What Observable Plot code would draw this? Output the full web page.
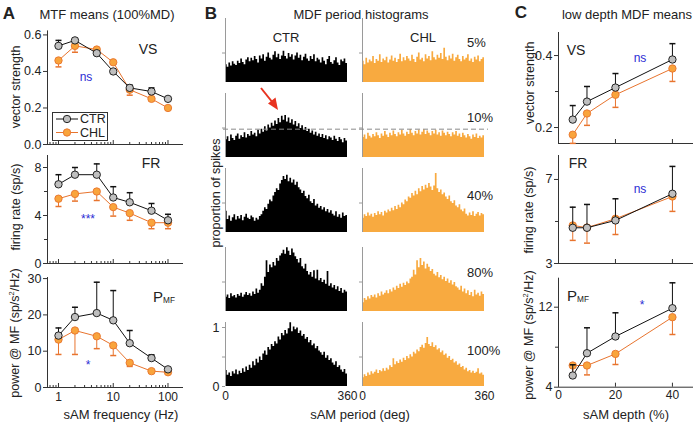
<!DOCTYPE html>
<html><head><meta charset="utf-8">
<script src="https://cdn.jsdelivr.net/npm/d3@7"></script>
<script src="https://cdn.jsdelivr.net/npm/@observablehq/plot@0.6"></script>
<style>
body{margin:0;background:#fff;}
#fig{position:relative;width:697px;height:423px;overflow:hidden;font-family:"Liberation Sans",Arial,sans-serif;color:#222;background:#fff;}
#fig svg{position:absolute;left:0;top:0;}
.t{position:absolute;white-space:nowrap;line-height:1;}
.t sub{font-size:0.55em;vertical-align:-0.15em;}
</style></head><body><div id="fig"></div>
<script>
// ---------- Panel A data: MTF means (100% MD) ----------
const freqHz = [1, 2, 5, 10, 20, 50, 100];
const vsCtr = [0.54, 0.57, 0.50, 0.40, 0.31, 0.29, 0.25];
const vsCtrSem = [0.03, 0.01, 0.01, 0.01, 0.015, 0.02, 0.01];
const vsChl = [0.46, 0.54, 0.52, 0.45, 0.30, 0.25, 0.20];
const vsChlSem = [0.035, 0.035, 0.01, 0.01, 0.03, 0.01, 0.01];
const frCtr = [6.6, 7.4, 7.4, 5.5, 5.1, 4.4, 3.6];
const frCtrSem = [0.8, 0.6, 0.9, 0.9, 0.8, 0.6, 0.5];
const frChl = [5.4, 5.8, 6.0, 4.7, 4.2, 3.4, 3.4];
const frChlSem = [0.65, 0.6, 0.75, 0.75, 0.6, 0.5, 0.5];
const pmfCtr = [14.3, 19.4, 20.5, 18.5, 12.2, 8.1, 5.0];
const pmfCtrSem = [2.1, 2.7, 8.5, 8.2, 3.5, 0.9, 0.4];
const pmfChl = [13.2, 15.7, 14.1, 11.6, 6.8, 4.5, 4.2];
const pmfChlSem = [4.1, 6.6, 3.4, 2.8, 1.0, 0.3, 0.3];

// ---------- Panel C data: low depth MDF means ----------
const depthPct = [5, 10, 20, 40];
const lowVsCtr = [0.222, 0.272, 0.311, 0.389];
const lowVsCtrSem = [0.039, 0.042, 0.039, 0.044];
const lowVsChl = [0.180, 0.239, 0.291, 0.364];
const lowVsChlSem = [0.024, 0.033, 0.035, 0.036];
const lowFrCtr = [4.70, 4.70, 5.05, 6.32];
const lowFrCtrSem = [0.98, 1.11, 1.03, 1.30];
const lowFrChl = [4.81, 4.71, 5.13, 6.19];
const lowFrChlSem = [0.71, 0.74, 0.75, 0.71];
const lowPmfCtr = [5.17, 7.4, 9.07, 11.9];
const lowPmfCtrSem = [1.07, 2.54, 2.37, 2.54];
const lowPmfChl = [6.17, 6.17, 7.33, 11.0];
const lowPmfChlSem = [0.84, 0.94, 1.06, 1.73];

// ---------- Panel B data: period histograms (72 bins of 5 deg) ----------
const depthLabels = ["5%", "10%", "40%", "80%", "100%"];
const refLevel10 = 0.48;
const histCtr5 = [0.30,0.26,0.33,0.28,0.35,0.31,0.29,0.36,0.32,0.40,0.34,0.30,0.38,0.42,0.35,0.41,0.37,0.44,0.39,0.33,0.45,0.40,0.47,0.36,0.43,0.50,0.41,0.38,0.46,0.52,0.42,0.48,0.39,0.45,0.53,0.44,0.40,0.49,0.43,0.47,0.38,0.45,0.50,0.41,0.46,0.37,0.43,0.48,0.40,0.36,0.44,0.39,0.47,0.35,0.41,0.38,0.33,0.42,0.36,0.30,0.39,0.44,0.34,0.31,0.37,0.42,0.33,0.29,0.38,0.35,0.40,0.32];
const histChl5 = [0.36,0.30,0.41,0.33,0.38,0.35,0.44,0.32,0.39,0.36,0.47,0.34,0.40,0.37,0.43,0.33,0.38,0.45,0.36,0.41,0.34,0.39,0.48,0.35,0.42,0.37,0.44,0.40,0.36,0.46,0.39,0.34,0.43,0.50,0.38,0.41,0.35,0.47,0.40,0.44,0.37,0.52,0.42,0.38,0.46,0.41,0.49,0.39,0.58,0.43,0.37,0.45,0.40,0.48,0.36,0.42,0.46,0.39,0.35,0.44,0.38,0.41,0.47,0.36,0.40,0.34,0.43,0.38,0.45,0.35,0.39,0.42];
const histCtr10 = [0.30,0.35,0.27,0.38,0.32,0.29,0.36,0.40,0.31,0.37,0.34,0.42,0.33,0.39,0.36,0.44,0.38,0.41,0.35,0.46,0.40,0.48,0.43,0.52,0.45,0.55,0.50,0.58,0.53,0.62,0.56,0.66,0.59,0.70,0.63,0.71,0.60,0.67,0.58,0.64,0.55,0.61,0.52,0.57,0.49,0.54,0.46,0.51,0.44,0.48,0.41,0.45,0.38,0.43,0.36,0.40,0.34,0.39,0.32,0.37,0.30,0.35,0.33,0.29,0.36,0.31,0.27,0.34,0.30,0.25,0.32,0.28];
const histChl10 = [0.34,0.38,0.31,0.41,0.36,0.33,0.39,0.35,0.42,0.37,0.32,0.40,0.36,0.44,0.38,0.34,0.41,0.37,0.45,0.39,0.35,0.42,0.38,0.46,0.40,0.36,0.43,0.39,0.47,0.41,0.37,0.44,0.40,0.46,0.38,0.43,0.47,0.39,0.45,0.41,0.37,0.44,0.40,0.46,0.38,0.42,0.36,0.45,0.41,0.37,0.43,0.39,0.35,0.42,0.38,0.44,0.36,0.40,0.34,0.41,0.37,0.33,0.39,0.35,0.31,0.38,0.34,0.40,0.32,0.36,0.33,0.37];
const histCtr40 = [0.36,0.22,0.28,0.19,0.25,0.30,0.21,0.27,0.23,0.29,0.20,0.26,0.31,0.24,0.22,0.28,0.25,0.19,0.24,0.21,0.27,0.30,0.36,0.42,0.39,0.48,0.55,0.52,0.62,0.68,0.74,0.71,0.82,0.88,0.95,0.90,0.97,0.86,0.92,0.84,0.89,0.80,0.85,0.76,0.72,0.66,0.70,0.61,0.57,0.63,0.52,0.49,0.56,0.45,0.48,0.41,0.44,0.38,0.42,0.35,0.39,0.33,0.37,0.31,0.28,0.35,0.26,0.30,0.24,0.33,0.27,0.29];
const histChl40 = [0.24,0.30,0.27,0.33,0.28,0.31,0.26,0.32,0.29,0.35,0.30,0.34,0.28,0.36,0.33,0.38,0.35,0.41,0.37,0.44,0.39,0.46,0.42,0.50,0.47,0.55,0.52,0.60,0.58,0.66,0.62,0.70,0.64,0.74,0.69,0.78,0.72,0.80,0.75,0.83,0.77,0.71,0.79,1.00,0.74,0.68,0.72,0.64,0.67,0.60,0.56,0.62,0.52,0.49,0.54,0.45,0.42,0.47,0.38,0.35,0.40,0.31,0.28,0.33,0.29,0.35,0.27,0.31,0.34,0.28,0.32,0.30];
const histCtr80 = [0.24,0.28,0.22,0.30,0.25,0.27,0.23,0.29,0.26,0.31,0.24,0.28,0.32,0.27,0.30,0.26,0.33,0.29,0.38,0.31,0.36,0.47,0.43,0.58,0.86,0.66,0.79,0.74,0.83,0.77,0.90,0.85,0.94,0.98,1.04,0.97,1.08,1.02,0.95,1.06,0.99,0.93,0.88,0.82,0.90,0.76,0.72,0.80,0.68,0.62,0.66,0.58,0.69,0.55,0.70,0.52,0.56,0.49,0.53,0.46,0.68,0.43,0.47,0.40,0.44,0.37,0.42,0.34,0.39,0.31,0.36,0.33];
const histChl80 = [0.15,0.22,0.19,0.25,0.21,0.27,0.24,0.28,0.23,0.30,0.26,0.33,0.28,0.31,0.35,0.30,0.37,0.33,0.40,0.36,0.43,0.39,0.46,0.41,0.48,0.44,0.50,0.47,0.55,0.58,0.70,0.62,0.86,0.74,0.90,0.78,0.84,0.72,0.80,0.75,0.68,0.71,0.63,0.60,0.66,0.57,0.61,0.54,0.58,0.51,0.55,0.48,0.52,0.45,0.49,0.42,0.40,0.36,0.43,0.33,0.38,0.30,0.35,0.27,0.32,0.25,0.36,0.28,0.31,0.26,0.33,0.29];
const histCtr100 = [0.27,0.19,0.23,0.17,0.25,0.21,0.28,0.20,0.26,0.22,0.30,0.24,0.33,0.27,0.36,0.31,0.42,0.35,0.46,0.40,0.50,0.44,0.55,0.60,0.53,0.66,0.62,0.71,0.68,0.76,0.72,0.84,0.79,0.90,0.86,0.95,0.89,0.98,1.08,0.93,1.01,0.96,0.99,0.90,0.94,0.85,0.88,0.80,0.83,0.74,0.78,0.69,0.72,0.64,0.68,0.60,0.57,0.53,0.58,0.48,0.52,0.44,0.47,0.40,0.36,0.42,0.32,0.35,0.28,0.24,0.29,0.21];
const histChl100 = [0.15,0.20,0.17,0.23,0.19,0.25,0.21,0.24,0.28,0.22,0.27,0.25,0.30,0.26,0.31,0.28,0.35,0.32,0.47,0.37,0.42,0.39,0.45,0.41,0.48,0.44,0.51,0.47,0.54,0.50,0.58,0.55,0.62,0.59,0.66,0.70,0.65,0.73,0.83,0.71,0.68,0.74,0.66,0.69,0.62,0.64,0.57,0.60,0.53,0.55,0.48,0.51,0.44,0.46,0.40,0.42,0.36,0.38,0.32,0.34,0.28,0.31,0.25,0.27,0.23,0.26,0.22,0.24,0.30,0.21,0.23,0.19];

// ---------- layout & styling ----------
const W = 697, H = 423;
const fig = document.getElementById("fig");
const AX = "#333", BLK = "#111", GRY = "#bfbfbf", ORL = "#e8742e", ORF = "#f9a43c", HORF = "#f8aa40", BLUE = "#2b2bd4";
const FONT = "'Liberation Sans', Arial, sans-serif";
const svgStyle = `background:none;overflow:visible;font-family:${FONT};font-size:12.5px;color:#222;max-width:none;`;
const capSymbol = {draw(ctx, size) { const r = Math.sqrt(size / Math.PI); ctx.moveTo(-r, 0); ctx.lineTo(r, 0); }};

function frame(x0, x1, y0, y1) {
  return {width: W, height: H, marginLeft: x0, marginRight: W - x1, marginTop: y0, marginBottom: H - y1};
}
function add(node) { fig.append(node); }

function meanPlot(p) {
  const mk = (v, e, s) => p.xs.map((x, i) => ({x, v: v[i], e: v[i] + s * e[i]}));
  const c = mk(p.ctr, p.ctrSem, 1), h = mk(p.chl, p.chlSem, -1);
  const fh = p.y1 - p.y0;
  const marks = [
    Plot.ruleX([p.xDomain[0]], {stroke: AX}),
    Plot.ruleY([p.yDomain[0]], {stroke: AX}),
    Plot.tickX(p.xMajor, {x: d => d, insetTop: fh - 4, stroke: AX}),
    Plot.axisY(p.yTicks, {tickSize: 4, tickPadding: 2, tickFormat: p.yFmt, stroke: AX, label: null, fontSize: 12.5})
  ];
  if (p.xMinor) marks.push(Plot.tickX(p.xMinor, {x: d => d, insetTop: fh - 2, stroke: AX}));
  if (p.yMinor) marks.push(Plot.axisY(p.yMinor, {tickSize: 3, tickFormat: () => "", stroke: AX, label: null}));
  if (p.xLabels) marks.push(Plot.axisX(p.xLabels, {tickSize: 0, tickPadding: p.xPad, tickFormat: d => String(d), label: null, fontSize: 12}));
  for (const [d, line, fill] of [[h, ORL, ORF], [c, BLK, GRY]]) {
    marks.push(Plot.ruleX(d, {x: "x", y1: "v", y2: "e", stroke: line}));
    marks.push(Plot.dot(d, {x: "x", y: "e", symbol: capSymbol, r: 3, stroke: line, fill: "none"}));
    marks.push(Plot.line(d, {x: "x", y: "v", stroke: line, strokeWidth: 1}));
    marks.push(Plot.dot(d, {x: "x", y: "v", r: 3.7, fill, stroke: line, strokeWidth: 0.9}));
  }
  return Plot.plot({
    ...frame(p.x0, p.x1, p.y0, p.y1), style: svgStyle,
    x: {type: p.xType, domain: p.xDomain, axis: null},
    y: {domain: p.yDomain, axis: null},
    marks
  });
}

// Panel A
const aX = {x0: 47, x1: 183, xType: "log", xDomain: [0.63, 192], xs: freqHz,
  xMajor: [1, 10, 100], xMinor: [0.7, 0.8, 0.9, 2, 3, 4, 5, 6, 7, 8, 9, 20, 30, 40, 50, 60, 70, 80, 90]};
add(meanPlot({...aX, y0: 30.4, y1: 144, yDomain: [0, 0.622], yTicks: [0, 0.2, 0.4, 0.6], yFmt: d3.format(".1f"),
  ctr: vsCtr, ctrSem: vsCtrSem, chl: vsChl, chlSem: vsChlSem}));
add(meanPlot({...aX, y0: 155, y1: 263, yDomain: [0, 9], yTicks: [0, 4, 8], yMinor: [2, 6], yFmt: d => String(d),
  ctr: frCtr, ctrSem: frCtrSem, chl: frChl, chlSem: frChlSem}));
add(meanPlot({...aX, y0: 277, y1: 387, yDomain: [0, 30.3], yTicks: [0, 10, 20, 30], yFmt: d => String(d),
  xLabels: [1, 10, 100], xPad: 5,
  ctr: pmfCtr, ctrSem: pmfCtrSem, chl: pmfChl, chlSem: pmfChlSem}));

// Panel C
const cX = {x0: 558, x1: 693, xType: "linear", xDomain: [0, 47.4], xs: depthPct, xMajor: [0, 20, 40]};
add(meanPlot({...cX, y0: 32, y1: 143, yDomain: [0.1556, 0.464], yTicks: [0.2, 0.4], yMinor: [0.3], yFmt: d3.format(".1f"),
  ctr: lowVsCtr, ctrSem: lowVsCtrSem, chl: lowVsChl, chlSem: lowVsChlSem}));
add(meanPlot({...cX, y0: 155, y1: 263, yDomain: [3, 8.14], yTicks: [3, 7], yMinor: [5], yFmt: d => String(d),
  ctr: lowFrCtr, ctrSem: lowFrCtrSem, chl: lowFrChl, chlSem: lowFrChlSem}));
add(meanPlot({...cX, y0: 277.7, y1: 386.7, yDomain: [4, 14.9], yTicks: [4, 12], yMinor: [8], yFmt: d => String(d),
  xLabels: [0, 20, 40], xPad: 3,
  ctr: lowPmfCtr, ctrSem: lowPmfCtrSem, chl: lowPmfChl, chlSem: lowPmfChlSem}));

// Panel B histograms
const rowBase = [82, 157, 232, 311, 386];
const histTop = 64, histDomain = [0, 64 / 59];
const colX = {ctr: [225, 347], chl: [362, 484]};
const histRows = [[histCtr5, histChl5], [histCtr10, histChl10], [histCtr40, histChl40], [histCtr80, histChl80], [histCtr100, histChl100]];
function histPlot(vals, color, xr, base, last, first) {
  const bw = 360 / vals.length;
  const data = vals.map((v, i) => ({a: i * bw, v}));
  data.push({a: 360, v: vals[vals.length - 1]});
  const marks = [
    Plot.areaY(data, {x: "a", y: "v", fill: color, curve: "step-after"}),
    Plot.ruleX([0], {stroke: "#9a9a9a"}),
    Plot.axisY(last && first ? [0, 0.5, 1] : [0.5], {tickSize: 3, tickPadding: 3, stroke: "#9a9a9a", label: null,
      tickFormat: d => (last && first && d !== 0.5) ? String(d) : "", fontSize: 12.5})
  ];
  if (last) marks.push(Plot.axisX([0, 360], {tickSize: 0, tickPadding: 5, tickFormat: d => String(d), label: null, fontSize: 12}));
  return Plot.plot({...frame(xr[0], xr[1], base - histTop, base), style: svgStyle,
    x: {domain: [0, 360], axis: null}, y: {domain: histDomain, axis: null}, marks});
}
histRows.forEach(([ctr, chl], i) => {
  const last = i === histRows.length - 1;
  add(histPlot(ctr, "#000", colX.ctr, rowBase[i], last, true));
  add(histPlot(chl, HORF, colX.chl, rowBase[i], last, false));
});
// dashed reference line across the 10% row
add(Plot.plot({...frame(223, 488, rowBase[1] - histTop, rowBase[1]), style: svgStyle,
  y: {domain: histDomain, axis: null},
  marks: [Plot.ruleY([refLevel10], {stroke: "#8a8a8a", strokeDasharray: "5,3", strokeWidth: 1})]}));

// ---------- text ----------
function txt(s, x, y, o = {}) {
  const d = document.createElement("div");
  d.className = "t";
  d.innerHTML = s;
  const size = o.size || 13;
  d.style.fontSize = size + "px";
  d.style.left = x + "px"; d.style.top = y + "px";
  if (o.color) d.style.color = o.color;
  if (o.bold) d.style.fontWeight = "bold";
  const tx = o.anchor === "start" ? "0" : o.anchor === "end" ? "-100%" : "-50%";
  d.style.transform = `translate(${tx},-50%)`;
  if (o.rot) { d.style.transform = `translate(-50%,-50%) rotate(${o.rot}deg)`; }
  fig.append(d);
}
// A
txt("A", 9, 13, {size: 17, bold: true});
txt("MTF means (100%MD)", 107, 14);
txt("vector strength", 16, 87, {rot: -90, size: 12.5});
txt("firing rate (sp/s)", 16, 207, {rot: -90, size: 12.5});
txt("power @ MF (sp/s<sup style='font-size:0.6em'>2</sup>/Hz)", 15, 333, {rot: -90, size: 12.5});
txt("sAM frequency (Hz)", 121, 414);
txt("VS", 148, 49, {size: 14});
txt("ns", 86, 77, {size: 12, color: BLUE});
txt("FR", 151, 163, {size: 14});
txt("***", 88, 219, {size: 12, color: BLUE});
txt("P<sub>MF</sub>", 153, 297, {size: 15, anchor: "start"});
txt("*", 88, 365, {size: 12, color: BLUE});
// B
txt("B", 211, 13, {size: 17, bold: true});
txt("MDF period histograms", 361, 14);
txt("CTR", 286, 37);
txt("CHL", 423, 37);
const pctY = [42, 117, 195, 272, 350];
depthLabels.forEach((s, i) => txt(s, 467, pctY[i], {anchor: "start"}));
txt("proportion of spikes", 216, 193, {rot: -90, size: 12.5});
txt("sAM period (deg)", 360, 414);
// C
txt("C", 521, 12, {size: 17, bold: true});
txt("low depth MDF means", 627, 14);
txt("vector strength", 530, 83, {rot: -90, size: 12.5});
txt("firing rate (sp/s)", 529, 210, {rot: -90, size: 12.5});
txt("power @ MF (sp/s<sup style='font-size:0.6em'>2</sup>/Hz)", 529, 335, {rot: -90, size: 12.5});
txt("sAM depth (%)", 626, 414);
txt("VS", 576, 50, {size: 14});
txt("ns", 640, 58, {size: 12, color: BLUE});
txt("FR", 578, 163, {size: 14});
txt("ns", 640, 189, {size: 12, color: BLUE});
txt("P<sub>MF</sub>", 567, 296, {size: 15, anchor: "start"});
txt("*", 642, 305, {size: 12, color: BLUE});

// legend (panel A) and red arrow (panel B) as plain SVG annotations
const ns = "http://www.w3.org/2000/svg";
const ann = document.createElementNS(ns, "svg");
ann.setAttribute("width", W); ann.setAttribute("height", H);
ann.innerHTML = `
 <rect x="52.5" y="112.5" width="55" height="28" fill="#fff" stroke="#333" stroke-width="1"/>
 <line x1="56" x2="78" y1="119" y2="119" stroke="${BLK}"/>
 <circle cx="67" cy="119" r="3.7" fill="${GRY}" stroke="${BLK}" stroke-width="0.9"/>
 <text x="80" y="123.3" font-size="12.5" font-family="${FONT}" fill="#222">CTR</text>
 <line x1="56" x2="78" y1="132.5" y2="132.5" stroke="${ORL}"/>
 <circle cx="67" cy="132.5" r="3.7" fill="${ORF}" stroke="${ORL}" stroke-width="0.9"/>
 <text x="80" y="136.8" font-size="12.5" font-family="${FONT}" fill="#222">CHL</text>
 <line x1="261" y1="88" x2="273" y2="103" stroke="#e8321f" stroke-width="2"/>
 <polygon points="278,110 268,103.5 275.5,97.5" fill="#e8321f"/>`;
fig.append(ann);
</script></body></html>
